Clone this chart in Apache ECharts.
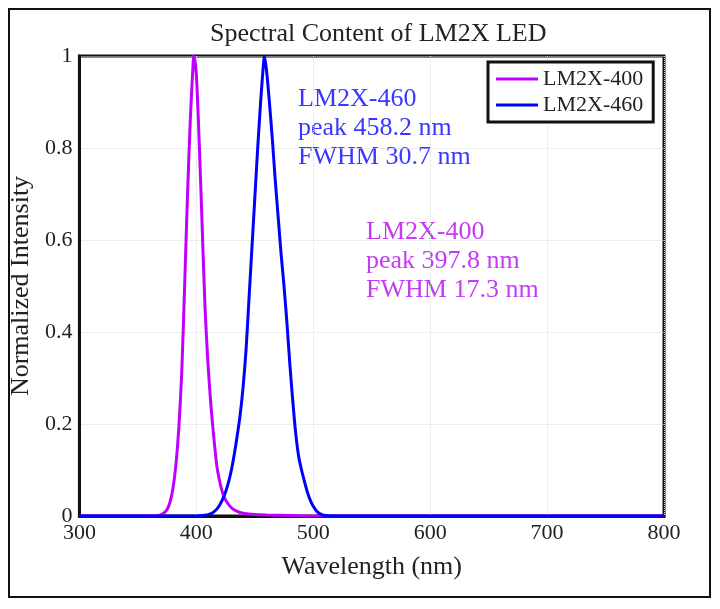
<!DOCTYPE html>
<html>
<head>
<meta charset="utf-8">
<script src="https://cdn.jsdelivr.net/npm/echarts@6/dist/echarts.min.js"></script>
<style>html,body{margin:0;padding:0;background:#fff}#c{width:720px;height:609px}</style>
</head>
<body>
<div id="c"></div>
<script>
// ---- data ----
var seriesNames = ['LM2X-400', 'LM2X-460'];
var xTicks = [300, 400, 500, 600, 700, 800];
var yTicks = [0, 0.2, 0.4, 0.6, 0.8, 1];

var wl400  = [300, 365, 367.5, 370, 372.5, 375, 377.5, 380, 382.5, 385, 387.5, 390, 392.5, 395, 397.5, 397.8, 400, 402.5, 405, 407.5, 410, 412.5, 415, 417.5, 420, 422.5, 425, 430, 435, 440, 450, 460, 480, 500, 800];
var int400 = [0, 0, 0.001, 0.003, 0.007, 0.014, 0.03, 0.06, 0.11, 0.19, 0.31, 0.5, 0.7, 0.87, 0.995, 1.0, 0.96, 0.81, 0.63, 0.45, 0.33, 0.24, 0.17, 0.11, 0.075, 0.05, 0.035, 0.018, 0.01, 0.006, 0.003, 0.002, 0.001, 0, 0];

var wl460  = [300, 400, 405, 410, 412.5, 415, 417.5, 420, 422.5, 425, 427.5, 430, 432.5, 435, 437.5, 440, 442.5, 445, 447.5, 450, 452.5, 455, 457.5, 458.2, 460, 462.5, 465, 467.5, 470, 472.5, 475, 477.5, 480, 482.5, 485, 487.5, 490, 492.5, 495, 497.5, 500, 502.5, 505, 507.5, 510, 515, 800];
var int460 = [0, 0, 0.001, 0.003, 0.005, 0.009, 0.015, 0.024, 0.036, 0.052, 0.073, 0.1, 0.135, 0.175, 0.22, 0.28, 0.36, 0.47, 0.58, 0.69, 0.8, 0.9, 0.985, 1.0, 0.97, 0.9, 0.82, 0.73, 0.65, 0.57, 0.5, 0.42, 0.33, 0.25, 0.18, 0.13, 0.1, 0.075, 0.052, 0.034, 0.021, 0.012, 0.006, 0.003, 0.001, 0, 0];

var notes460 = ['LM2X-460', 'peak 458.2 nm', 'FWHM 30.7 nm'];
var notes400 = ['LM2X-400', 'peak 397.8 nm', 'FWHM 17.3 nm'];

function zip(xs, ys) { return xs.map(function (x, i) { return [x, ys[i]]; }); }

var FONT = '"Liberation Serif", "Times New Roman", serif';
var purple = '#c000ff', blue = '#0000ff';

var chart = echarts.init(document.getElementById('c'), null, {renderer: 'canvas'});
chart.setOption({
  backgroundColor: '#fff',
  animation: false,
  title: {
    text: 'Spectral Content of LM2X LED',
    left: 205, top: 16,
    textStyle: {fontFamily: FONT, fontSize: 26, fontWeight: 'normal', color: '#222'}
  },
  legend: {
    orient: 'vertical',
    left: 488, top: 62,
    padding: [5, 10, 5, 8],
    itemWidth: 42, itemHeight: 3,
    itemGap: 2,
    itemTextGap: 4,
    icon: 'rect',
    borderColor: '#111', borderWidth: 3,
    backgroundColor: '#fff',
    textStyle: {fontFamily: FONT, fontSize: 22, color: '#222', lineHeight: 24},
    data: seriesNames
  },
  grid: {left: 78, top: 56, right: 56, bottom: 93, show: true, borderColor: '#111', borderWidth: 3, containLabel: false},
  xAxis: {
    type: 'value', min: xTicks[0], max: xTicks[xTicks.length - 1], interval: 100,
    name: 'Wavelength (nm)', nameLocation: 'middle', nameGap: 38,
    nameTextStyle: {fontFamily: FONT, fontSize: 26, color: '#222'},
    axisLine: {show: true, lineStyle: {color: '#111', width: 3}},
    axisTick: {show: false},
    axisLabel: {fontFamily: FONT, fontSize: 22, color: '#222', margin: 6},
    splitLine: {show: true, lineStyle: {color: '#dcdcdc', type: 'dotted', width: 1}}
  },
  yAxis: {
    type: 'value', min: yTicks[0], max: yTicks[yTicks.length - 1], interval: 0.2,
    name: 'Normalized Intensity', nameLocation: 'middle', nameGap: 37,
    nameTextStyle: {fontFamily: FONT, fontSize: 26, color: '#222'},
    axisLine: {show: true, lineStyle: {color: '#111', width: 3}},
    axisTick: {show: false},
    axisLabel: {fontFamily: FONT, fontSize: 22, color: '#222', margin: 7},
    splitLine: {show: true, lineStyle: {color: '#dcdcdc', type: 'dotted', width: 1}}
  },
  series: [
    {name: seriesNames[0], type: 'line', data: zip(wl400, int400), showSymbol: false, smooth: 0.25,
     lineStyle: {color: purple, width: 3}, itemStyle: {color: purple}},
    {name: seriesNames[1], type: 'line', data: zip(wl460, int460), showSymbol: false, smooth: 0.25,
     lineStyle: {color: blue, width: 3}, itemStyle: {color: blue}}
  ],
  graphic: [
    {type: 'rect', shape: {x: 9, y: 9, width: 701, height: 588}, style: {fill: 'none', stroke: '#111', lineWidth: 2}, z: 100},
    {type: 'text', left: 298, top: 85, style: {text: notes460.join('\n'), fill: '#3838ff', font: '26px ' + FONT, lineHeight: 29}},
    {type: 'text', left: 366, top: 218, style: {text: notes400.join('\n'), fill: '#c53af5', font: '26px ' + FONT, lineHeight: 29}}
  ]
});
</script>
</body>
</html>
